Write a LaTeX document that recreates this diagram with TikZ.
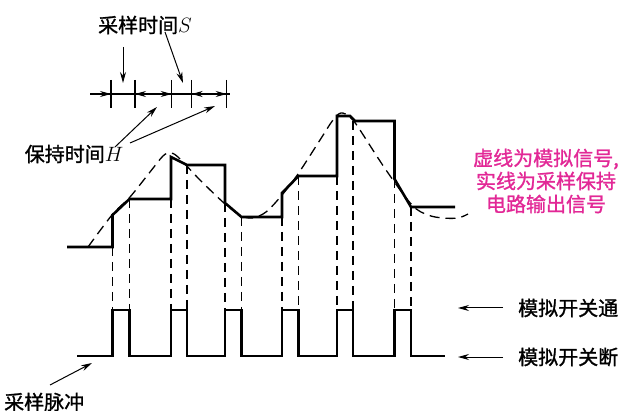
\documentclass[tikz,border=0pt]{standalone}
\usepackage{fontspec}
\newfontfamily\cjk{Noto Sans CJK SC}[FakeBold=1.2]
\usetikzlibrary{arrows.meta}
\definecolor{mag}{RGB}{226,40,150}
\begin{document}
\begin{tikzpicture}[x=1pt,y=-1pt,
  lbl/.style={font=\cjk\fontsize{20}{23}\selectfont, inner sep=0pt},
  maglbl/.style={lbl, text=mag, align=center},
  arr/.style={-{Stealth[length=11pt,width=6pt]}, line width=1pt},
  dblarr/.style={{Stealth[length=11pt,width=6pt]}-{Stealth[length=11pt,width=6pt]}, line width=1pt},
  stair/.style={line width=2.6pt, line join=miter},
  pulse/.style={line width=2.2pt, line join=miter},
  vdash/.style={line width=1.3pt, dash pattern=on 9pt off 6pt},
  sig/.style={line width=1.3pt, dash pattern=on 10pt off 6pt},
  tickln/.style={line width=1.1pt}]
\useasboundingbox (0,0) rectangle (642,411);

% ---------- labels ----------
\node[lbl] (Slbl) at (145,25) {采样时间$S$};
\node[lbl] (Hlbl) at (74,154) {保持时间$H$};
\node[lbl,anchor=west] (on) at (518,308) {模拟开关通};
\node[lbl,anchor=west] (off) at (518,357) {模拟开关断};
\node[lbl,anchor=west] (pul) at (4,402) {采样脉冲};
\node[maglbl] (note) at (546,181) {虚线为模拟信号,\\实线为采样保持\\电路输出信号};

% ---------- time axis ----------
\coordinate (a0) at (90,94);
\coordinate (a1) at (111,94);
\coordinate (a2) at (135,94);
\coordinate (a3) at (171.7,94);
\coordinate (a4) at (191.7,94);
\coordinate (a5) at (226.7,94);
\coordinate (a6) at (230,94);
\draw[tickln] (a0) -- (a6);
\foreach \x in {111,135,171.7,191.7,226.7}
  \draw[tickln] (\x,80) -- (\x,108);
\draw[arr] (a0) -- (a1);
\draw[dblarr] (a2) -- (a3);
\draw[dblarr] (a4) -- (a5);

% arrows from labels
\coordinate (s1a) at (123,47);  \coordinate (s1b) at (123,83);
\coordinate (s2a) at (165,32);  \coordinate (s2b) at (183,83);
\coordinate (h1a) at (115,147); \coordinate (h1b) at (157,107);
\coordinate (h2a) at (130,143); \coordinate (h2b) at (215,106);
\draw[arr] (s1a) -- (s1b);
\draw[arr] (s2a) -- (s2b);
\draw[arr] (h1a) -- (h1b);
\draw[arr] (h2a) -- (h2b);

% ---------- analog signal (dashed) ----------
\draw[sig] plot[smooth, tension=0.55] coordinates {
  (88,247) (112,215) (130,197) (150,172) (163,156) (170,153) (178,157)
  (200,180) (224,203) (240,215) (252,218) (266,212) (282,195) (298,174)
  (320,140) (333,120) (341,113) (350,117) (358,127) (386,170) (412,205)
  (428,215) (443,218) (458,218) (468,214)};

% ---------- sample-and-hold output ----------
\draw[stair] (67,247) -- (112.5,247) -- (112.5,215) -- (129.5,199) -- (171,199)
  -- (171,157) -- (187,165) -- (225,165) -- (225,203) -- (241.5,217) -- (282,217)
  -- (282,193) -- (298.5,176) -- (337,176) -- (337,116) -- (350,116) -- (355,121)
  -- (394.5,121) -- (394.5,179) -- (411,207) -- (455,207);

% ---------- dashed verticals ----------
\foreach \x/\y in {112.5/247,129.5/199,171/199,187/165,225/203,241.5/217,
                   282/217,298.5/176,337/176,353/121,394.5/179,411/207}
  \draw[vdash] (\x,\y) -- (\x,310);

% ---------- sampling pulses ----------
\draw[pulse] (77,356) -- (112.5,356) -- (112.5,310) -- (129.5,310) -- (129.5,356)
  -- (171,356) -- (171,310) -- (187,310) -- (187,356)
  -- (225,356) -- (225,310) -- (241.5,310) -- (241.5,356)
  -- (282,356) -- (282,310) -- (298.5,310) -- (298.5,356)
  -- (337,356) -- (337,310) -- (353,310) -- (353,356)
  -- (394.5,356) -- (394.5,310) -- (411,310) -- (411,356) -- (445,356);

% ---------- side arrows ----------
\coordinate (onA) at (503,308); \coordinate (onB) at (458,308);
\coordinate (offA) at (503,357); \coordinate (offB) at (458,357);
\draw[arr] (onA) -- (onB);
\draw[arr] (offA) -- (offB);
\coordinate (pA) at (50,385); \coordinate (pB) at (92,363);
\draw[arr] (pA) -- (pB);
\end{tikzpicture}
\end{document}
